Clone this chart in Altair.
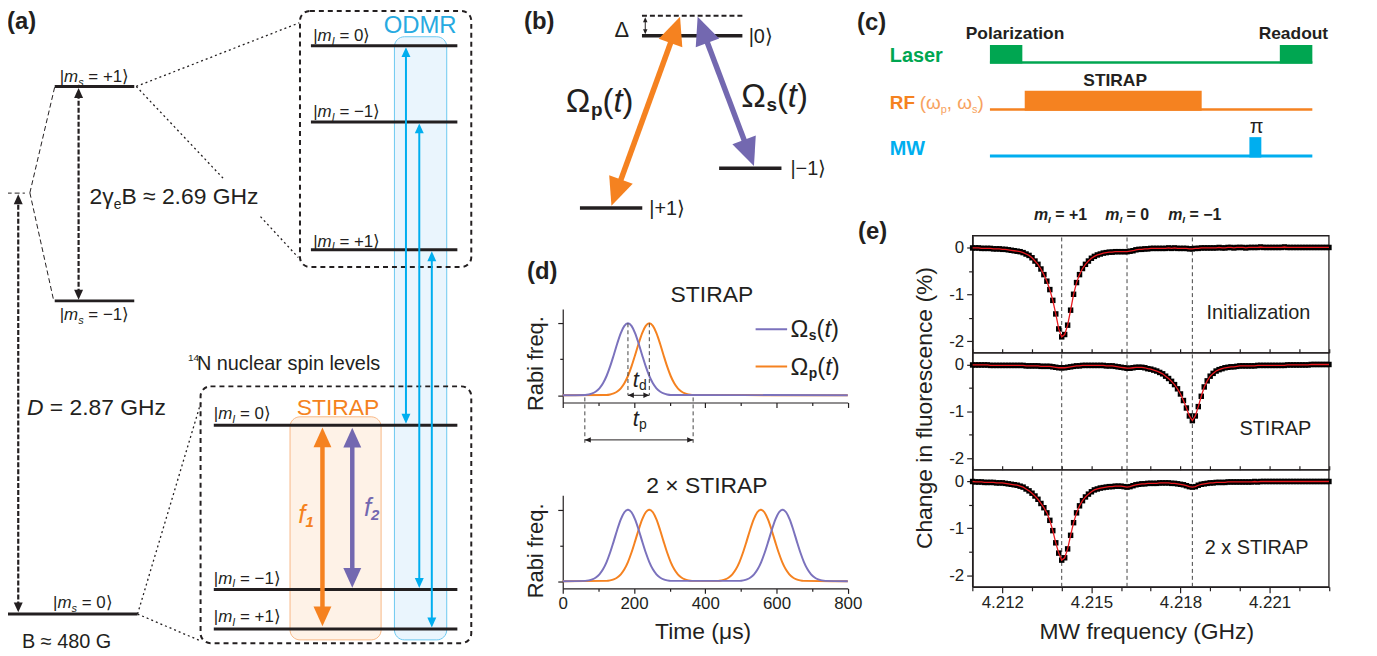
import math
import altair as alt
import pandas as pd

FONT = "Liberation Sans"
INK = "#231f20"
ORANGE = "#f58220"
ORANGE_LIGHT = "#f7a25e"
PURPLE = "#7368b0"
PURPLE_LINE = "#7b72bd"
BLUE = "#00aeef"
ODMR_BLUE = "#27aae1"
GREEN = "#00a651"
RED = "#e8191f"
DASHGREY = "#444444"

W, H = 1369, 648      # drawing area (page minus 8px margin)
OX, OY = 8, 8         # page margin offset

# ---------------- panel (e): ODMR spectra ----------------
FREQ_GHZ = [
    4.2110, 4.2111, 4.2112, 4.2113, 4.2114, 4.2115, 4.2116, 4.2117, 4.2118, 4.2119,
    4.2120, 4.2121, 4.2122, 4.2123, 4.2124, 4.2125, 4.2126, 4.2127, 4.2128, 4.2129,
    4.2130, 4.2131, 4.2132, 4.2133, 4.2134, 4.2135, 4.2136, 4.2137, 4.2138, 4.2139,
    4.2140, 4.2141, 4.2142, 4.2143, 4.2144, 4.2145, 4.2146, 4.2147, 4.2148, 4.2149,
    4.2150, 4.2151, 4.2152, 4.2153, 4.2154, 4.2155, 4.2156, 4.2157, 4.2158, 4.2159,
    4.2160, 4.2161, 4.2162, 4.2163, 4.2164, 4.2165, 4.2166, 4.2167, 4.2168, 4.2169,
    4.2170, 4.2171, 4.2172, 4.2173, 4.2174, 4.2175, 4.2176, 4.2177, 4.2178, 4.2179,
    4.2180, 4.2181, 4.2182, 4.2183, 4.2184, 4.2185, 4.2186, 4.2187, 4.2188, 4.2189,
    4.2190, 4.2191, 4.2192, 4.2193, 4.2194, 4.2195, 4.2196, 4.2197, 4.2198, 4.2199,
    4.2200, 4.2201, 4.2202, 4.2203, 4.2204, 4.2205, 4.2206, 4.2207, 4.2208, 4.2209,
    4.2210, 4.2211, 4.2212, 4.2213, 4.2214, 4.2215, 4.2216, 4.2217, 4.2218, 4.2219,
    4.2220, 4.2221, 4.2222, 4.2223, 4.2224, 4.2225, 4.2226, 4.2227, 4.2228, 4.2229,
    4.2230,
]
INIT_PCT = [
    -0.01, -0.01, -0.01, -0.02, -0.02, -0.02, -0.02, -0.03, -0.03, -0.03,
    -0.04, -0.04, -0.05, -0.06, -0.07, -0.08, -0.09, -0.11, -0.14, -0.17,
    -0.22, -0.29, -0.36, -0.46, -0.58, -0.72, -0.90, -1.13, -1.42, -1.74,
    -1.91, -1.86, -1.66, -1.34, -1.00, -0.75, -0.58, -0.45, -0.36, -0.29,
    -0.23, -0.19, -0.16, -0.14, -0.12, -0.11, -0.10, -0.10, -0.09, -0.09,
    -0.09, -0.09, -0.09, -0.08, -0.07, -0.05, -0.04, -0.04, -0.03, -0.03,
    -0.02, -0.02, -0.02, -0.02, -0.02, -0.02, -0.01, -0.02, -0.01, -0.02,
    -0.02, -0.02, -0.02, -0.03, -0.03, -0.02, -0.02, -0.01, -0.01, -0.01,
    -0.01, -0.01, -0.01, 0.00, -0.01, -0.01, 0.00, 0.00, -0.01, 0.00,
    0.00, 0.00, -0.01, 0.00, 0.00, 0.00, 0.00, 0.01, 0.00, 0.00,
    0.00, 0.00, 0.00, 0.00, 0.00, 0.01, 0.00, 0.00, 0.00, 0.00,
    0.00, 0.00, 0.00, 0.00, 0.00, 0.00, 0.00, 0.00, 0.00, 0.00,
    0.00,
]
STIRAP_PCT = [
    -0.01, -0.01, -0.01, -0.01, -0.01, -0.01, -0.02, -0.02, -0.02, -0.02,
    -0.02, -0.02, -0.02, -0.02, -0.02, -0.02, -0.02, -0.02, -0.03, -0.03,
    -0.03, -0.03, -0.03, -0.04, -0.04, -0.04, -0.04, -0.05, -0.06, -0.07,
    -0.07, -0.07, -0.06, -0.05, -0.04, -0.03, -0.03, -0.02, -0.02, -0.02,
    -0.02, -0.02, -0.02, -0.02, -0.02, -0.03, -0.03, -0.03, -0.04, -0.05,
    -0.06, -0.07, -0.08, -0.08, -0.07, -0.06, -0.06, -0.06, -0.07, -0.09,
    -0.10, -0.12, -0.14, -0.17, -0.20, -0.25, -0.30, -0.36, -0.43, -0.52,
    -0.63, -0.77, -0.93, -1.10, -1.20, -1.10, -0.90, -0.68, -0.48, -0.35,
    -0.25, -0.19, -0.14, -0.11, -0.09, -0.07, -0.06, -0.05, -0.05, -0.04,
    -0.03, -0.03, -0.03, -0.03, -0.03, -0.03, -0.02, -0.02, -0.02, -0.02,
    -0.02, -0.02, -0.02, -0.02, -0.02, -0.02, -0.01, -0.01, -0.01, -0.01,
    -0.01, -0.01, -0.01, -0.01, 0.00, 0.00, 0.00, 0.00, 0.00, 0.00,
    0.00,
]
STIRAP2_PCT = [
    0.00, -0.01, -0.01, -0.01, -0.02, -0.02, -0.02, -0.02, -0.03, -0.03,
    -0.03, -0.04, -0.05, -0.06, -0.07, -0.08, -0.10, -0.12, -0.16, -0.20,
    -0.25, -0.31, -0.38, -0.47, -0.56, -0.67, -0.83, -1.05, -1.31, -1.53,
    -1.68, -1.63, -1.44, -1.15, -0.88, -0.67, -0.52, -0.41, -0.33, -0.27,
    -0.22, -0.18, -0.16, -0.14, -0.13, -0.12, -0.11, -0.11, -0.10, -0.10,
    -0.10, -0.11, -0.12, -0.11, -0.09, -0.07, -0.06, -0.05, -0.05, -0.04,
    -0.04, -0.04, -0.04, -0.03, -0.03, -0.03, -0.03, -0.04, -0.04, -0.05,
    -0.06, -0.07, -0.09, -0.11, -0.12, -0.11, -0.08, -0.06, -0.05, -0.04,
    -0.03, -0.03, -0.02, -0.02, -0.02, -0.02, -0.01, -0.01, -0.01, -0.01,
    -0.01, -0.01, -0.01, -0.01, -0.01, 0.00, -0.01, 0.00, 0.00, 0.00,
    0.00, 0.00, 0.00, 0.00, 0.00, 0.00, 0.00, 0.00, 0.00, 0.00,
    0.00, 0.00, 0.00, 0.00, 0.00, 0.00, 0.00, 0.00, 0.00, 0.00,
    0.00,
]
E_SERIES = [INIT_PCT, STIRAP_PCT, STIRAP2_PCT]
E_DOMAIN_X = [4.211, 4.223]
E_DOMAIN_Y = [-2.25, 0.25]
E_LEFT_PX, E_RIGHT_PX = 978.3, 1336.7
E_PANEL_TOP_PX = [235.2, 352.9, 470.6]
E_PANEL_BOTTOM_PX = [352.9, 470.6, 588.3]
MI_FREQ_GHZ = [4.2140, 4.2162, 4.2184]
E_X_MAJOR = [4.212, 4.215, 4.218, 4.221]
E_X_ALL = [4.211, 4.212, 4.213, 4.214, 4.215, 4.216, 4.217, 4.218, 4.219, 4.220, 4.221, 4.222, 4.223]
E_X_MINOR = [4.211, 4.213, 4.214, 4.216, 4.217, 4.219, 4.220, 4.222, 4.223]
E_Y_MAJOR = [0, -1, -2]
E_Y_MINOR = [-0.5, -1.5]

# ---------------- panel (d): Rabi pulses ----------------
PULSE_OFFSET_US = [-120, -110, -100, -90, -80, -70, -60, -50, -40, -30, -20, -10, 0,
                   10, 20, 30, 40, 50, 60, 70, 80, 90, 100, 110, 120]
PULSE_SHAPE = [0.005, 0.012, 0.026, 0.052, 0.097, 0.167, 0.268, 0.401, 0.557, 0.720, 0.864, 0.964, 1.000,
               0.964, 0.864, 0.720, 0.557, 0.401, 0.268, 0.167, 0.097, 0.052, 0.026, 0.012, 0.005]
STOKES_1_US = [183]
PUMP_1_US = [243]
STOKES_2_US = [183, 617]
PUMP_2_US = [243, 556]
D_X_MAJOR = [0, 200, 400, 600, 800]
D_X_MINOR = [100, 300, 500, 700]
TD_US = [183, 243]
TP_US = [62, 366]
D_LEFT_PX, D_RIGHT_PX = 566.0, 852.7
D_TOP_Y_PX = (402.9, 308.8)
D_BOT_Y_PX = (589.9, 496.3)

# ---------------- schematic geometry (page pixels) ----------------
SOLID_LINES = [
    # (a) electron spin levels
    (55, 85, 135, 85, 3, INK), (55, 300.7, 135, 300.7, 3, INK), (7.3, 615.7, 138.3, 615.7, 3, INK),
    # (a) nuclear levels, upper box
    (312.7, 44, 460, 44, 3, INK), (312.7, 120.7, 460, 120.7, 3, INK), (312.7, 249.3, 460, 249.3, 3, INK),
    # (a) nuclear levels, lower box
    (215, 425.7, 460, 425.7, 3, INK), (215, 591, 460, 591, 3, INK), (215, 630.7, 460, 630.7, 3, INK),
    # (b) Lambda levels
    (645.7, 34, 746.7, 34, 3.5, INK), (583.3, 207.3, 646, 207.3, 3.5, INK), (723.3, 167.3, 786, 167.3, 3.5, INK),
    # (c) sequence baselines
    (995.7, 61, 1320, 61, 2.5, GREEN), (995.7, 108.3, 1320, 108.3, 2.5, ORANGE), (995.7, 155, 1320, 155, 3, BLUE),
    # (d) legend samples
    (760, 329.3, 791.7, 329.3, 2, PURPLE_LINE), (760, 366.7, 791.7, 366.7, 2, ORANGE),
]
DOTTED_LINES = [
    (137, 85, 301, 21, 1.3, INK), (137, 85, 225, 178, 1.3, INK), (262, 216, 300, 257, 1.3, INK),
    (138.3, 615.7, 202, 403, 1.3, INK), (138.3, 615.7, 200, 642, 1.3, INK),
]
THIN_DASH_LINES = [
    (30, 192, 55, 85.5, 1, INK), (30, 192, 54, 300.5, 1, INK), (6.7, 192.3, 25, 192.3, 1, INK),
]
VIRTUAL_LEVEL = [(645.7, 14, 746.7, 14, 2, INK)]
# arrows: (x_tail, y_tail, x_tip, y_tip, width, colour, head length, dashed)
ARROWS = [
    (324.3, 628, 324.3, 428, 4.5, ORANGE, 20, False),
    (354.3, 589.3, 354.3, 428.3, 4.5, PURPLE, 20, False),
    (408.3, 424.2, 408.3, 45.5, 2, BLUE, 10, False),
    (421.7, 589.5, 421.7, 122.2, 2, BLUE, 10, False),
    (434.3, 629.2, 434.3, 250.8, 2, BLUE, 10, False),
    (615, 205, 684, 15, 5.5, ORANGE, 28, False),
    (758.3, 165, 701.7, 15, 5.5, PURPLE, 28, False),
    (649, 32.5, 649, 15.5, 1, INK, 5, False),
    (79, 299.5, 79, 86.5, 2.2, INK, 10, True),
    (18.3, 614, 18.3, 193.5, 2.2, INK, 10, True),
]
FILL_BOXES = [
    (396.7, 35, 449.3, 641.7, "#eaf5fd", "#6cc8f0"),
    (291.7, 417.3, 383.3, 641.7, "#fef2e7", "#f8b887"),
]
DASH_BOXES = [(301.7, 9, 474, 266.7), (201.7, 386.7, 474, 645)]
PULSE_BLOCKS = [
    (995.7, 43.3, 1028.3, 62, GREEN), (1287.3, 43.3, 1320, 62, GREEN),
    (1030.7, 89.3, 1208.7, 109.5, ORANGE), (1256.7, 136, 1268.7, 156.5, BLUE),
]
HEAD_PATH = "M0,-1L0.9,1L-0.9,1Z"

# ---------------- text ----------------
W_NORM = {' ': .278, '(': .333, ')': .333, '+': .584, ',': .278, '-': .333, '.': .278,
          '=': .584, '|': .26, 'A': .667, 'B': .667, 'C': .722, 'D': .722, 'G': .778, 'H': .722,
          'I': .278, 'M': .833, 'N': .722, 'O': .778, 'P': .667, 'R': .722, 'S': .667, 'T': .611,
          'W': .944, 'a': .556, 'b': .556, 'c': .5, 'd': .556, 'e': .556, 'f': .278, 'g': .556,
          'h': .556, 'i': .222, 'l': .222, 'm': .833, 'n': .556, 'o': .556, 'p': .556, 'r': .333,
          's': .5, 't': .278, 'u': .556, 'v': .5, 'x': .5, 'z': .5, 'Ω': .768, 'Δ': .668, 'γ': .5,
          'ω': .78, 'π': .56, '≈': .584, '×': .584, '⟩': .39, '−': .584, 'μ': .576}
W_BOLD = dict(W_NORM)
W_BOLD.update({'a': .556, 'd': .611, 'e': .556, 'i': .278, 'l': .278, 'm': .889, 'n': .611, 'o': .611,
               'p': .611, 'r': .389, 's': .556, 't': .333, 'u': .611, 'z': .5, 'x': .556, 'A': .722,
               'F': .611, 'L': .611, 'I': .278})

TEXT_ROWS = []


def measure(text, size, style):
    table = W_BOLD if "b" in style else W_NORM
    return sum(table.get(ch, 0.556) for ch in text) * size


def place(x, base, parts, anchor="left"):
    total = sum(measure(p[0], p[1], p[2]) for p in parts)
    cx = x - total / 2 if anchor == "center" else x
    for text, size, style, dy, color in parts:
        lead = len(text) - len(text.lstrip(" "))
        core = text.strip(" ")
        if core:
            TEXT_ROWS.append(dict(x=cx + measure(" " * lead, size, style), y=base + dy,
                                  t=core.replace(" ", "\u00a0"), s=size, st=style, c=color))
        cx += measure(text, size, style)


def ket(sub, val, size=17, color=INK):
    return [("|", size, "n", 0, color), ("m", size, "i", 0, color), (sub, round(size * 0.65), "i", 4, color),
            (" = " + val, size, "n", 0, color), ("⟩", size, "n", 0, color)]


def omega(sub, size, color=INK):
    return [("Ω", size, "n", 0, color), (sub, round(size * 0.58), "b", round(size * 0.12), color),
            ("(", size, "n", 0, color), ("t", size, "i", 0, color), (")", size, "n", 0, color)]


# (a)
place(7, 27, [("(a)", 24, "b", 0, INK)])
place(60, 81, ket("s", "+1"))
place(60, 319.5, ket("s", "−1"))
place(53.3, 610, ket("s", "0"))
place(90, 203, [("2γ", 23, "n", 0, INK), ("e", 14, "n", 5, INK), ("B ≈ 2.69 GHz", 23, "n", 0, INK)])
place(27, 415, [("D", 23, "i", 0, INK), (" = 2.87 GHz", 23, "n", 0, INK)])
place(22, 650, [("B ≈ 480 G", 20, "n", 0, INK)])
place(422.5, 31.5, [("ODMR", 24, "n", 0, ODMR_BLUE)], "center")
place(189, 361, [("14", 10, "n", 0, INK)])
place(198, 370, [("N nuclear spin levels", 20, "n", 0, INK)])
place(340, 415, [("STIRAP", 23, "n", 0, ORANGE)], "center")
for kx, kb, kv in [(315, 39.5, "0"), (315, 116, "−1"), (315, 246, "+1"),
                   (215, 420, "0"), (215, 585, "−1"), (215, 623.5, "+1")]:
    place(kx, kb, ket("I", kv))
place(300, 524, [("f", 26, "i", 0, ORANGE), ("1", 15, "bi", 4, ORANGE)])
place(366, 517, [("f", 26, "i", 0, PURPLE), ("2", 15, "bi", 4, PURPLE)])
# (b)
place(527, 27, [("(b)", 24, "b", 0, INK)])
place(618, 35, [("Δ", 22, "n", 0, INK)])
place(753, 41, [("|0⟩", 20, "n", 0, INK)])
place(795, 174, [("|−1⟩", 20, "n", 0, INK)])
place(653, 214, [("|+1⟩", 20, "n", 0, INK)])
place(569, 111, omega("p", 33))
place(745.5, 106, omega("s", 33))
# (c)
place(862, 28, [("(c)", 24, "b", 0, INK)])
place(1021, 37.5, [("Polarization", 17.5, "b", 0, INK)], "center")
place(1301, 37.5, [("Readout", 17.5, "b", 0, INK)], "center")
place(895, 60, [("Laser", 20, "b", 0, GREEN)])
place(1121.7, 85, [("STIRAP", 17.5, "b", 0, INK)], "center")
place(895, 107.5, [("RF", 19, "b", 0, ORANGE)])
place(925, 107.5, [("(", 19, "n", 0, ORANGE_LIGHT), ("ω", 19, "n", 0, ORANGE_LIGHT), ("p", 11, "n", 4, ORANGE_LIGHT),
                   (", ", 19, "n", 0, ORANGE_LIGHT), ("ω", 19, "n", 0, ORANGE_LIGHT), ("s", 11, "n", 4, ORANGE_LIGHT),
                   (")", 19, "n", 0, ORANGE_LIGHT)])
place(895, 154, [("MW", 20, "b", 0, BLUE)])
place(1262.7, 132, [("π", 20, "n", 0, INK)], "center")
# (d)
place(530, 279, [("(d)", 24, "b", 0, INK)])
place(716, 302, [("STIRAP", 23, "n", 0, INK)], "center")
place(711, 493.5, [("2 × STIRAP", 23, "n", 0, INK)], "center")
place(795, 337.5, omega("s", 24))
place(795, 375, omega("p", 24))
place(636.5, 387.5, [("t", 22, "i", 0, INK), ("d", 14, "n", 3, INK)])
place(636.5, 427, [("t", 22, "i", 0, INK), ("p", 14, "n", 3, INK)])
# (e)
place(863, 238, [("(e)", 24, "b", 0, INK)])
for mx, mv in [(1040, "+1"), (1111.7, "0"), (1175, "−1")]:
    place(mx, 219.5, [("m", 16, "bi", 0, INK), ("I", 10, "bi", 3, INK), (" = " + mv, 16, "b", 0, INK)])
place(1213.5, 318.5, [("Initialization", 20, "n", 0, INK)])
place(1246.7, 436, [("STIRAP", 20, "n", 0, INK)])
place(1211.7, 555, [("2 x STIRAP", 20, "n", 0, INK)])


# ---------------- helpers ----------------
def sx():
    return alt.Scale(domain=[OX, OX + W], range=[0, W], nice=False, zero=False)


def sy():
    return alt.Scale(domain=[OY, OY + H], range=[0, H], nice=False, zero=False)


def rule_layer(items, **mark):
    df = pd.DataFrame(items, columns=["x1", "y1", "x2", "y2", "w", "c"])
    return alt.Chart(df).mark_rule(**mark).encode(
        x=alt.X("x1:Q", scale=sx(), axis=None), x2="x2:Q",
        y=alt.Y("y1:Q", scale=sy(), axis=None), y2="y2:Q",
        strokeWidth=alt.StrokeWidth("w:Q", scale=None),
        color=alt.Color("c:N", scale=None),
    )


def head_angle(ux, uy):
    return math.degrees(math.atan2(ux, -uy)) % 360


solid_arrows, dashed_arrows, heads = [], [], []
for x1, y1, x2, y2, w, col, L, dashed in ARROWS:
    n = math.hypot(x2 - x1, y2 - y1)
    ux, uy = (x2 - x1) / n, (y2 - y1) / n
    shaft = (x1 + ux * L * 0.6, y1 + uy * L * 0.6, x2 - ux * L * 0.6, y2 - uy * L * 0.6, w, col)
    (dashed_arrows if dashed else solid_arrows).append(shaft)
    heads.append(dict(x=x2 - ux * L / 2, y=y2 - uy * L / 2, sz=L * L, a=head_angle(ux, uy), c=col))
    heads.append(dict(x=x1 + ux * L / 2, y=y1 + uy * L / 2, sz=L * L, a=head_angle(-ux, -uy), c=col))

layers = []

fill_df = pd.DataFrame(FILL_BOXES, columns=["x1", "y1", "x2", "y2", "f", "s"])
layers.append(alt.Chart(fill_df).mark_rect(cornerRadius=10, strokeWidth=1).encode(
    x=alt.X("x1:Q", scale=sx(), axis=None), x2="x2:Q",
    y=alt.Y("y1:Q", scale=sy(), axis=None), y2="y2:Q",
    fill=alt.Fill("f:N", scale=None), stroke=alt.Stroke("s:N", scale=None)))

box_df = pd.DataFrame(DASH_BOXES, columns=["x1", "y1", "x2", "y2"])
layers.append(alt.Chart(box_df).mark_rect(cornerRadius=10, fill="white", fillOpacity=0, stroke=INK,
                                          strokeWidth=2, strokeDash=[5, 4]).encode(
    x=alt.X("x1:Q", scale=sx(), axis=None), x2="x2:Q",
    y=alt.Y("y1:Q", scale=sy(), axis=None), y2="y2:Q"))

blk_df = pd.DataFrame(PULSE_BLOCKS, columns=["x1", "y1", "x2", "y2", "f"])
layers.append(alt.Chart(blk_df).mark_rect().encode(
    x=alt.X("x1:Q", scale=sx(), axis=None), x2="x2:Q",
    y=alt.Y("y1:Q", scale=sy(), axis=None), y2="y2:Q",
    fill=alt.Fill("f:N", scale=None)))

layers.append(rule_layer(DOTTED_LINES, strokeDash=[2, 3]))
layers.append(rule_layer(THIN_DASH_LINES, strokeDash=[5, 3]))
layers.append(rule_layer(VIRTUAL_LEVEL, strokeDash=[5, 3]))
layers.append(rule_layer(dashed_arrows, strokeDash=[5, 2]))
layers.append(rule_layer(SOLID_LINES))
layers.append(rule_layer(solid_arrows))

head_df = pd.DataFrame(heads)
layers.append(alt.Chart(head_df).mark_point(shape=HEAD_PATH, filled=True, opacity=1, strokeWidth=0).encode(
    x=alt.X("x:Q", scale=sx(), axis=None), y=alt.Y("y:Q", scale=sy(), axis=None),
    size=alt.Size("sz:Q", scale=None), angle=alt.Angle("a:Q", scale=None),
    color=alt.Color("c:N", scale=None)))

text_df = pd.DataFrame(TEXT_ROWS)
for st, fstyle, fweight in [("n", "normal", "normal"), ("i", "italic", "normal"),
                            ("b", "normal", "bold"), ("bi", "italic", "bold")]:
    sub = text_df[text_df["st"] == st]
    if len(sub) == 0:
        continue
    layers.append(alt.Chart(sub).mark_text(align="left", baseline="alphabetic", font=FONT,
                                           fontStyle=fstyle, fontWeight=fweight).encode(
        x=alt.X("x:Q", scale=sx(), axis=None), y=alt.Y("y:Q", scale=sy(), axis=None),
        text="t:N", size=alt.Size("s:Q", scale=None), color=alt.Color("c:N", scale=None)))


# ---------------- panel (d) ----------------
def pulse_frame(centers):
    ts, vs = [0.0], [0.0]
    for c in centers:
        for o, v in zip(PULSE_OFFSET_US, PULSE_SHAPE):
            ts.append(c + o)
            vs.append(v)
    ts.append(800.0)
    vs.append(0.0)
    return pd.DataFrame({"t": ts, "v": vs})


def dxs():
    return alt.Scale(domain=[0, 800], range=[D_LEFT_PX - OX, D_RIGHT_PX - OX], nice=False, zero=False)


def dys(px):
    return alt.Scale(domain=[-0.1, 1.2], range=[px[0] - OY, px[1] - OY], nice=False, zero=False)


for ypx, pumps, stokes, bottom in [(D_TOP_Y_PX, PUMP_1_US, STOKES_1_US, False),
                                   (D_BOT_Y_PX, PUMP_2_US, STOKES_2_US, True)]:
    x_minor = alt.Axis(orient="bottom", offset=(ypx[0] - OY) - H, values=D_X_MINOR, tickSize=3,
                       labels=False, domain=False, title=None)
    y_minor = alt.Axis(orient="left", offset=-(D_LEFT_PX - OX), values=[0.5], tickSize=3,
                       labels=False, domain=False, title=None)
    if bottom:
        x_major = alt.Axis(orient="bottom", offset=(ypx[0] - OY) - H, values=D_X_MAJOR, tickSize=5,
                           labels=True, labelFlush=False, labelPadding=2, format="d",
                           title="Time (μs)", titleX=706.7 - OX, titleY=633.3 - ypx[0],
                           titleAlign="center", titleBaseline="middle", titleAngle=0)
        ytitle_y = 551.7
    else:
        x_major = alt.Axis(orient="bottom", offset=(ypx[0] - OY) - H, values=D_X_MAJOR, tickSize=5,
                           labels=False, title=None)
        ytitle_y = 363.3
    y_major = alt.Axis(orient="left", offset=-(D_LEFT_PX - OX), values=[0, 1], tickSize=5, labels=False,
                       title="Rabi freq.", titleX=538.3 - D_LEFT_PX, titleY=ytitle_y - OY,
                       titleAngle=270, titleAlign="center", titleBaseline="middle", titleFontSize=22)
    layers.append(alt.Chart(pulse_frame(pumps)).mark_line(color=ORANGE, strokeWidth=2, interpolate="monotone").encode(
        x=alt.X("t:Q", scale=dxs(), axis=x_minor), y=alt.Y("v:Q", scale=dys(ypx), axis=y_minor)))
    layers.append(alt.Chart(pulse_frame(stokes)).mark_line(color=PURPLE_LINE, strokeWidth=2, interpolate="monotone").encode(
        x=alt.X("t:Q", scale=dxs(), axis=x_major), y=alt.Y("v:Q", scale=dys(ypx), axis=y_major)))

# annotations of the top (d) plot, in its data coordinates
d_px_per_us = (D_RIGHT_PX - D_LEFT_PX) / 800
dash_df = pd.DataFrame({"t": [TD_US[0], TD_US[1], TP_US[0], TP_US[1]],
                        "v": [1.0, 1.0, -0.03, -0.03], "v2": [0.0, 0.0, -0.66, -0.66]})
layers.append(alt.Chart(dash_df).mark_rule(color=DASHGREY, strokeWidth=1, strokeDash=[4, 3]).encode(
    x=alt.X("t:Q", scale=dxs(), axis=None), y=alt.Y("v:Q", scale=dys(D_TOP_Y_PX), axis=None), y2="v2:Q"))
shaft_df = pd.DataFrame({"t": [TD_US[0], TP_US[0]], "t2": [TD_US[1], TP_US[1]], "v": [0.0, -0.62]})
layers.append(alt.Chart(shaft_df).mark_rule(color=INK, strokeWidth=1).encode(
    x=alt.X("t:Q", scale=dxs(), axis=None), x2="t2:Q", y=alt.Y("v:Q", scale=dys(D_TOP_Y_PX), axis=None)))
hl = 6.0
hoff = hl / 2 / d_px_per_us
dhead_df = pd.DataFrame({"t": [TD_US[0] + hoff, TD_US[1] - hoff, TP_US[0] + hoff, TP_US[1] - hoff],
                         "v": [0.0, 0.0, -0.62, -0.62], "a": [270, 90, 270, 90], "sz": [hl * hl] * 4})
layers.append(alt.Chart(dhead_df).mark_point(shape=HEAD_PATH, filled=True, opacity=1, strokeWidth=0, color=INK).encode(
    x=alt.X("t:Q", scale=dxs(), axis=None), y=alt.Y("v:Q", scale=dys(D_TOP_Y_PX), axis=None),
    size=alt.Size("sz:Q", scale=None), angle=alt.Angle("a:Q", scale=None)))

# ---------------- panel (e) ----------------
for p in range(3):
    top, bot = E_PANEL_TOP_PX[p], E_PANEL_BOTTOM_PX[p]

    def xs():
        return alt.Scale(domain=E_DOMAIN_X, range=[E_LEFT_PX - OX, E_RIGHT_PX - OX], nice=False, zero=False)

    def ys(top=top, bot=bot):
        return alt.Scale(domain=E_DOMAIN_Y, range=[bot - OY, top - OY], nice=False, zero=False)

    frame_df = pd.DataFrame({"x": [E_DOMAIN_X[0]], "x2": [E_DOMAIN_X[1]], "y": [E_DOMAIN_Y[0]], "y2": [E_DOMAIN_Y[1]]})
    frame_xaxis = None
    if p > 0:
        frame_xaxis = alt.Axis(orient="top", offset=-(top - OY), values=E_X_ALL, tickSize=4,
                               labels=False, domain=False, title=None)
    layers.append(alt.Chart(frame_df).mark_rect(fill="white", fillOpacity=0, stroke=INK, strokeWidth=1.3).encode(
        x=alt.X("x:Q", scale=xs(), axis=frame_xaxis), x2="x2:Q",
        y=alt.Y("y:Q", scale=ys(), axis=None), y2="y2:Q"))

    mi_df = pd.DataFrame({"f": MI_FREQ_GHZ, "y": [E_DOMAIN_Y[0]] * 3, "y2": [E_DOMAIN_Y[1]] * 3})
    layers.append(alt.Chart(mi_df).mark_rule(color=DASHGREY, strokeWidth=1, strokeDash=[4, 3]).encode(
        x=alt.X("f:Q", scale=xs(), axis=None),
        y=alt.Y("y:Q", scale=ys(), axis=None), y2="y2:Q"))

    df = pd.DataFrame({"f": FREQ_GHZ, "v": E_SERIES[p]})
    y_major_kw = dict(orient="left", offset=-(E_LEFT_PX - OX), values=E_Y_MAJOR, tickSize=6,
                      labelExpr="'' + datum.value", labelPadding=3, labelFlush=False)
    if p == 1:
        y_major = alt.Axis(title="Change in fluorescence (%)", titleX=930 - E_LEFT_PX, titleY=408 - OY,
                           titleAngle=270, titleAlign="center", titleBaseline="middle", **y_major_kw)
    else:
        y_major = alt.Axis(title=None, **y_major_kw)
    y_minor = alt.Axis(orient="left", offset=-(E_LEFT_PX - OX), values=E_Y_MINOR, tickSize=4,
                       labels=False, domain=False, title=None)
    if p == 2:
        x_major = alt.Axis(orient="bottom", offset=(bot - OY) - H, values=E_X_MAJOR, tickSize=6, format=".3f",
                           labelFlush=False, labelPadding=2, title="MW frequency (GHz)",
                           titleX=1153 - OX, titleY=633 - bot, titleAlign="center", titleBaseline="middle",
                           titleAngle=0)
        x_minor = alt.Axis(orient="bottom", offset=(bot - OY) - H, values=E_X_MINOR, tickSize=4,
                           labels=False, domain=False, title=None)
    else:
        x_major = None
        x_minor = None
    layers.append(alt.Chart(df).mark_square(size=30, color="black", opacity=1).encode(
        x=alt.X("f:Q", scale=xs(), axis=x_major), y=alt.Y("v:Q", scale=ys(), axis=y_major)))
    layers.append(alt.Chart(df).mark_line(color=RED, strokeWidth=1.3).encode(
        x=alt.X("f:Q", scale=xs(), axis=x_minor), y=alt.Y("v:Q", scale=ys(), axis=y_minor)))

chart = alt.layer(*layers).resolve_scale(
    x="independent", y="independent"
).resolve_axis(
    x="independent", y="independent"
).properties(
    width=W, height=H, padding=0, autosize=alt.AutoSizeParams(type="none")
).configure_view(stroke=None).configure_axis(
    grid=False, labelFont=FONT, titleFont=FONT, labelFontSize=17, titleFontSize=23,
    titleFontWeight="normal", labelColor=INK, titleColor=INK, domainColor=INK, tickColor=INK,
    domainWidth=1.2, tickWidth=1.2, labelOverlap=False,
)

chart.save("out.html", embed_options={"renderer": "svg", "actions": False})
